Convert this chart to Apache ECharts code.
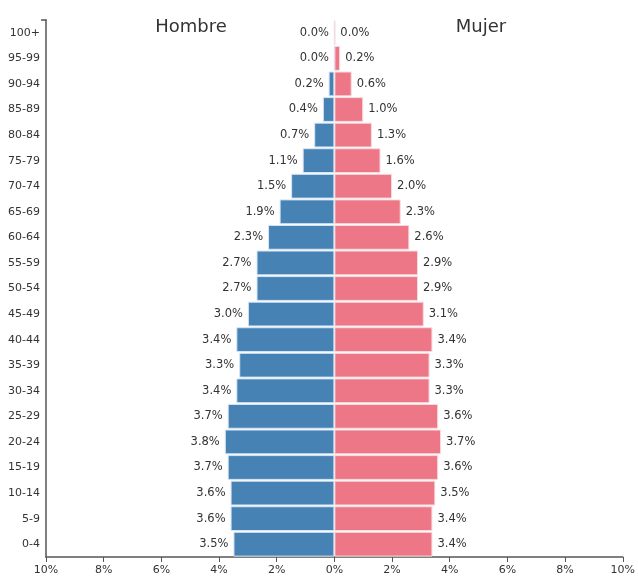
<!DOCTYPE html>
<html><head><meta charset="utf-8">
<script src="https://cdn.jsdelivr.net/npm/echarts@6/dist/echarts.min.js"></script>
<style>html,body{margin:0;padding:0;background:#fff}#c{width:638px;height:576px}</style>
</head><body><div id="c"></div>
<script>
const categories = ["0-4","5-9","10-14","15-19","20-24","25-29","30-34","35-39","40-44","45-49","50-54","55-59","60-64","65-69","70-74","75-79","80-84","85-89","90-94","95-99","100+"];
const male = [3.5,3.6,3.6,3.7,3.8,3.7,3.4,3.3,3.4,3.0,2.7,2.7,2.3,1.9,1.5,1.1,0.7,0.4,0.2,0.0,0.0];
const female = [3.4,3.4,3.5,3.6,3.7,3.6,3.3,3.3,3.4,3.1,2.9,2.9,2.6,2.3,2.0,1.6,1.3,1.0,0.6,0.2,0.03];
const xTicks = [-10,-8,-6,-4,-2,0,2,4,6,8,10];
const F = '"DejaVu Sans", sans-serif';
const chart = echarts.init(document.getElementById('c'));
chart.setOption({
  animation:false,
  graphic:[
    {type:'text', x:191, y:27, style:{text:'Hombre', font:'18px "DejaVu Sans", sans-serif', fill:'#333', align:'center', verticalAlign:'middle'}},
    {type:'text', x:481, y:27, style:{text:'Mujer', font:'18px "DejaVu Sans", sans-serif', fill:'#333', align:'center', verticalAlign:'middle'}},
    {type:'line', shape:{x1:41, y1:20, x2:46.5, y2:20}, style:{stroke:'#555', lineWidth:1.5}}
  ],
  grid:{left:46,right:12,top:20,bottom:19,containLabel:false},
  xAxis:{type:'value',min:xTicks[0],max:xTicks[xTicks.length-1],interval:2,
    axisLine:{show:true,onZero:false,lineStyle:{color:'#555',width:1.5}},
    axisTick:{show:true,length:5,lineStyle:{color:'#555'}},
    splitLine:{show:false},
    axisLabel:{fontFamily:F,fontSize:11,color:'#333',margin:8,formatter:v=>Math.abs(v)+'%'}},
  yAxis:{type:'category',data:categories,
    axisLine:{show:true,onZero:false,lineStyle:{color:'#555',width:1.5}},
    axisTick:{show:false},
    axisLabel:{fontFamily:F,fontSize:11,color:'#333',margin:6}},
  series:[
    {name:'Hombre',type:'bar',stack:'a',data:male.map(v=>-v),barCategoryGap:'3%',
     itemStyle:{color:'#4682b4',borderColor:'#d6e6f6',borderWidth:1},
     label:{show:true,position:'left',distance:5,fontFamily:F,fontSize:11.5,color:'#333',formatter:p=>Math.abs(p.value).toFixed(1)+'%'}},
    {name:'Mujer',type:'bar',stack:'a',data:female,barCategoryGap:'3%',
     itemStyle:{color:'#ee7787',borderColor:'#f6dde0',borderWidth:1},
     label:{show:true,position:'right',distance:5,fontFamily:F,fontSize:11.5,color:'#333',formatter:p=>p.value.toFixed(1)+'%'}}
  ]
});
</script></body></html>
